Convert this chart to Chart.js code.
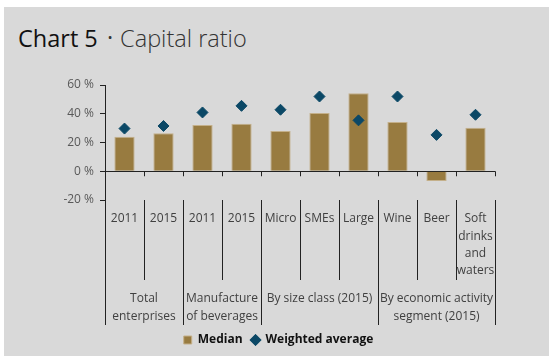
<!DOCTYPE html>
<html>
<head>
<meta charset="utf-8">
<script src="https://cdn.jsdelivr.net/npm/chart.js@4"></script>
<style>
    body { margin: 0; background: #fff; }
    .box {
        position: absolute; left: 4px; top: 7px; width: 545px; height: 349px;
        background: #d9d9d9;
    }
    .title {
        position: absolute; left: 18px; top: 24px;
        font-family: "Open Sans", sans-serif; font-size: 23.5px; line-height: 28px;
        color: #111; white-space: nowrap;
    }
    .title .dot { color: #333; margin: 0 7px 0 3px; position: relative; top: -1px; }
    .title .sub { color: #333; font-weight: 300; }
    #wrap { position: absolute; left: 0; top: 0; width: 549px; height: 356px; }
</style>
</head>
<body>
<div class="box"></div>
<div class="title">Chart 5 <span class="dot">·</span><span class="sub">Capital ratio</span></div>
<div id="wrap"><canvas id="capitalChart"></canvas></div>
<script>
// ==============================
// data
// ==============================
const categories = ["2011", "2015", "2011", "2015", "Micro", "SMEs", "Large", "Wine", "Beer", ["Soft", "drinks", "and", "waters"]];
const medianValues = [24, 26.4, 32.2, 33.1, 28, 40.5, 54.3, 34.3, -6.8, 30.3];
const weightedValues = [29.7, 31.5, 40.9, 45.5, 42.8, 52, 35.4, 52, 25.3, 39.3];
const groupLabels = [["Total", "enterprises"], ["Manufacture", "of beverages"], "By size class (2015)", ["By economic activity", "segment (2015)"]];
const groupCenters = [0.5, 2.5, 5, 8];
const groupBounds = [-0.5, 1.5, 3.5, 6.5, 9.5];
const yTicks = [-20, 0, 20, 40, 60];

const FONT = "'Open Sans', sans-serif";
const LINE = "#222";

// small tick marks under the zero line
const zeroTicks = {
    id: "zeroTicks",
    afterDatasetsDraw(chart) {
        const xs = chart.scales.x;
        const y0 = chart.scales.y.getPixelForValue(0);
        const c = chart.ctx;
        c.save();
        c.strokeStyle = LINE;
        c.lineWidth = 1;
        for (let i = 0; i <= categories.length; i++) {
            const px = Math.round(xs.getPixelForValue(i - 0.5)) + 0.5;
            c.beginPath();
            c.moveTo(px, y0);
            c.lineTo(px, y0 + 5);
            c.stroke();
        }
        c.restore();
    },
};

new Chart(document.getElementById("capitalChart"), {
    data: {
        labels: categories,
        datasets: [
            {
                type: "bar",
                label: "Median",
                data: medianValues,
                backgroundColor: "#987b40",
                borderColor: "#c4b08a",
                borderWidth: 1,
                categoryPercentage: 1,
                barPercentage: 0.52,
                pointStyle: "rect",
                order: 2,
            },
            {
                type: "line",
                label: "Weighted average",
                data: weightedValues,
                showLine: false,
                pointStyle: "rectRot",
                pointRadius: 5.5,
                pointBackgroundColor: "#0b4866",
                pointBorderColor: "#0b4866",
                pointBorderWidth: 1,
                backgroundColor: "#0b4866",
                borderColor: "#0b4866",
                order: 1,
            },
        ],
    },
    plugins: [zeroTicks],
    options: {
        responsive: true,
        maintainAspectRatio: false,
        animation: false,
        layout: { padding: { top: 85, right: 54, bottom: 0, left: 62 } },
        plugins: {
            tooltip: { enabled: false },
            legend: {
                position: "bottom",
                labels: {
                    usePointStyle: true,
                    boxWidth: 8,
                    boxHeight: 8,
                    padding: 9,
                    color: "#111",
                    font: { family: FONT, size: 12, weight: "bold" },
                    sort: (a, b) => a.datasetIndex - b.datasetIndex,
                },
            },
        },
        scales: {
            y: {
                min: -20,
                max: 60,
                afterBuildTicks: (s) => { s.ticks = yTicks.map((v) => ({ value: v })); },
                afterFit: (s) => { s.width = 43; },
                ticks: {
                    padding: 6,
                    color: "#595959",
                    font: { family: FONT, size: 12 },
                    callback: (v) => v + " %",
                },
                grid: {
                    color: (ctx) => (ctx.tick && ctx.tick.value === 0 ? LINE : "transparent"),
                    tickColor: LINE,
                    tickLength: 5,
                },
                border: { display: true, color: LINE },
            },
            x: {
                type: "category",
                position: "bottom",
                weight: 1,
                offset: true,
                afterFit: (s) => { s.height = 80; },
                ticks: {
                    autoSkip: false,
                    maxRotation: 0,
                    padding: -70,
                    color: "#404040",
                    font: { family: FONT, size: 12, lineHeight: 1.45 },
                },
                grid: {
                    offset: true,
                    drawOnChartArea: false,
                    tickLength: 80,
                    tickColor: LINE,
                    color: LINE,
                },
                border: { display: false },
            },
            x2: {
                type: "linear",
                position: "bottom",
                weight: 2,
                min: -0.5,
                max: 9.5,
                afterBuildTicks: (s) => {
                    s.ticks = groupBounds.concat(groupCenters).sort((a, b) => a - b).map((v) => ({ value: v }));
                },
                afterFit: (s) => { s.height = 45; },
                ticks: {
                    autoSkip: false,
                    maxRotation: 0,
                    padding: -35,
                    color: "#404040",
                    font: { family: FONT, size: 12, lineHeight: 1.45 },
                    callback: (v) => {
                        const i = groupCenters.indexOf(v);
                        return i >= 0 ? groupLabels[i] : "";
                    },
                },
                grid: {
                    drawOnChartArea: false,
                    tickLength: 45,
                    tickColor: (ctx) => (ctx.tick && groupBounds.includes(ctx.tick.value) ? LINE : "transparent"),
                    color: "transparent",
                },
                border: { display: false },
            },
        },
    },
});
</script>
</body>
</html>
